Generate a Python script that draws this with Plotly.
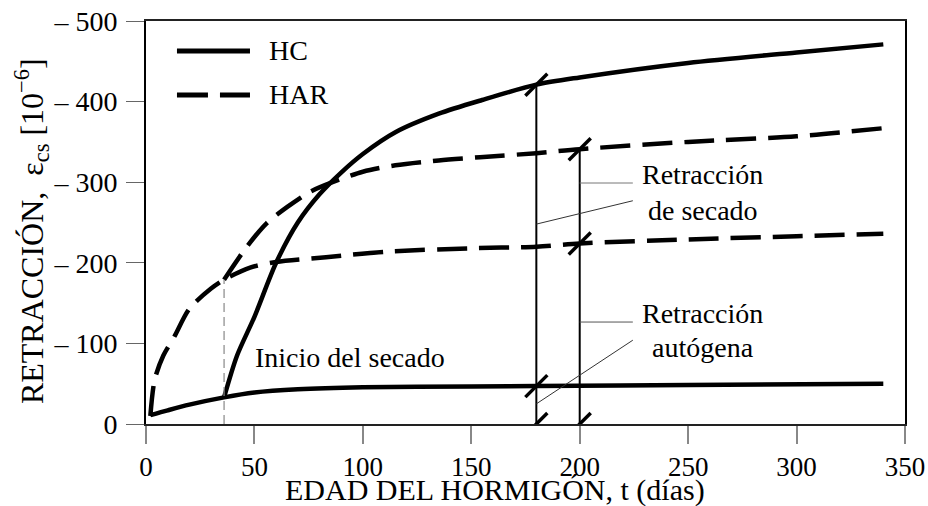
import plotly.graph_objects as go

# ---- data ----
hc_auto_x = [2, 10, 20, 36, 50, 70, 100, 150, 180, 250, 340]
hc_auto_y = [11, 17, 24, 33, 39, 43, 45.5, 46.5, 47, 48.5, 50]

hc_dry_x = [36, 42, 50, 60, 70, 80, 90, 100, 115, 135, 155, 180, 200, 250, 300, 340]
hc_dry_y = [33, 85, 133, 200, 250, 285, 312, 335, 362, 385, 402, 421, 430, 448, 461, 471]

har_auto_x = [2, 4, 8, 13, 20, 30, 36, 48, 60, 83, 112, 150, 180, 200, 250, 300, 340]
har_auto_y = [10, 55, 85, 108, 143, 168, 179, 194, 201, 207, 214, 218, 220, 224, 229, 233, 236]

har_dry_x = [36, 46.5, 55.6, 65, 75.6, 86, 100, 115, 135, 154, 180, 200, 250, 300, 340]
har_dry_y = [179, 220, 249, 269, 288, 300, 313, 321, 327, 331, 336, 341, 350, 357, 367]

x_ticks = [0, 50, 100, 150, 200, 250, 300, 350]
y_ticks = [0, 100, 200, 300, 400, 500]
y_ticktext = ["0", "\u2013 100", "\u2013 200", "\u2013 300", "\u2013 400", "\u2013 500"]

vline_x = [180, 200]
vline_top = [421, 341]
drying_start_x = 36
drying_start_y = 179

break_x = [180, 180, 180, 200, 200, 200]
break_y = [421, 47, 0, 341, 224, 0]

FONT = "Liberation Serif, DejaVu Serif, serif"

fig = go.Figure()

solid = dict(color="black", width=4.5, shape="spline", smoothing=0.8)
dashed = dict(color="black", width=4.5, shape="spline", smoothing=0.8, dash="30px,12px")

fig.add_trace(go.Scatter(x=hc_auto_x, y=hc_auto_y, mode="lines", line=solid, name="HC"))
fig.add_trace(go.Scatter(x=hc_dry_x, y=hc_dry_y, mode="lines", line=solid, showlegend=False))
fig.add_trace(go.Scatter(x=har_auto_x, y=har_auto_y, mode="lines", line=dashed, name="HAR"))
fig.add_trace(go.Scatter(x=har_dry_x, y=har_dry_y, mode="lines", line=dashed, showlegend=False))

shapes = []
shapes.append(dict(type="line", xref="x", yref="y", x0=drying_start_x, x1=drying_start_x,
                   y0=0, y1=drying_start_y, line=dict(color="#888", width=1.2, dash="9px,5px")))
for vx, vt in zip(vline_x, vline_top):
    shapes.append(dict(type="line", xref="x", yref="y", x0=vx, x1=vx, y0=0, y1=vt,
                       line=dict(color="black", width=2)))
for bx, by in zip(break_x, break_y):
    shapes.append(dict(type="line", xref="x", yref="y", xsizemode="pixel", ysizemode="pixel",
                       xanchor=bx, yanchor=by, x0=-11, x1=11, y0=-11, y1=11,
                       line=dict(color="black", width=3.5)))
shapes.append(dict(type="line", xref="x", yref="y", x0=200, x1=224.5, y0=299, y1=299,
                   line=dict(color="#777", width=1)))
shapes.append(dict(type="line", xref="x", yref="y", x0=180, x1=224.5, y0=248, y1=277,
                   line=dict(color="#333", width=1)))
shapes.append(dict(type="line", xref="x", yref="y", x0=200, x1=224.5, y0=126.5, y1=126.5,
                   line=dict(color="#555", width=1)))
shapes.append(dict(type="line", xref="x", yref="y", x0=180, x1=224.5, y0=25, y1=104,
                   line=dict(color="#333", width=1)))
shapes.append(dict(type="line", xref="paper", yref="paper", x0=0.0408, x1=0.137, y0=0.9256, y1=0.9256,
                   line=dict(color="black", width=5)))
shapes.append(dict(type="line", xref="paper", yref="paper", x0=0.0408, x1=0.137, y0=0.8164, y1=0.8164,
                   line=dict(color="black", width=5, dash="31px,12px")))

af = dict(family=FONT, size=28, color="black")
tf = dict(family=FONT, size=30, color="black")
annotations = [
    dict(x=0.1594, y=0.9256, xref="paper", yref="paper", text="HC", showarrow=False,
         xanchor="left", yanchor="middle", font=af),
    dict(x=0.1594, y=0.8164, xref="paper", yref="paper", text="HAR", showarrow=False,
         xanchor="left", yanchor="middle", font=af),
    dict(x=49.3, y=83, xref="x", yref="y", text="Inicio del secado", showarrow=False,
         xanchor="left", yanchor="middle", font=af),
    dict(x=256.8, y=309, xref="x", yref="y", text="Retracción", showarrow=False,
         xanchor="center", yanchor="middle", font=af),
    dict(x=256.8, y=265.5, xref="x", yref="y", text="de secado", showarrow=False,
         xanchor="center", yanchor="middle", font=af),
    dict(x=256.8, y=137.7, xref="x", yref="y", text="Retracción", showarrow=False,
         xanchor="center", yanchor="middle", font=af),
    dict(x=256.8, y=95.5, xref="x", yref="y", text="autógena", showarrow=False,
         xanchor="center", yanchor="middle", font=af),
    # axis titles
    dict(x=0.46, y=-0.164, xref="paper", yref="paper", text="EDAD DEL HORMIGÓN, t (días)",
         showarrow=False, xanchor="center", yanchor="middle", font=tf),
    dict(x=-0.150, y=0.479, xref="paper", yref="paper",
         text="RETRACCIÓN,  ε<sub>cs</sub> [10<sup>\u22126</sup>]", textangle=-90,
         showarrow=False, xanchor="center", yanchor="middle",
         font=dict(family=FONT, size=32, color="black")),
]

fig.update_layout(
    width=928, height=506,
    margin=dict(l=146, r=23, t=21, b=82),
    paper_bgcolor="white", plot_bgcolor="white",
    font=dict(family=FONT, color="black", size=28),
    showlegend=False,
    shapes=shapes,
    annotations=annotations,
)

fig.update_xaxes(
    range=[0, 350], tickvals=x_ticks, ticktext=[str(v) for v in x_ticks],
    showgrid=False, zeroline=False, showline=True, linecolor="#222", linewidth=2, mirror=True,
    ticks="outside", ticklen=18, tickwidth=1.5, tickcolor="#888",
    tickfont=dict(size=27, family=FONT, color="black"), ticklabelstandoff=0,
    automargin=False,
)
fig.update_yaxes(
    range=[0, 500], tickvals=y_ticks, ticktext=y_ticktext,
    showgrid=False, zeroline=False, showline=True, linecolor="black", linewidth=2, mirror=True,
    ticks="outside", ticklen=18, tickwidth=1.2, tickcolor="#666",
    tickfont=dict(size=28, family=FONT, color="black"), ticklabelstandoff=3,
    automargin=False,
)

fig.write_html("out.html", config={"displayModeBar": False},
               post_script="document.body.style.margin='0';")
